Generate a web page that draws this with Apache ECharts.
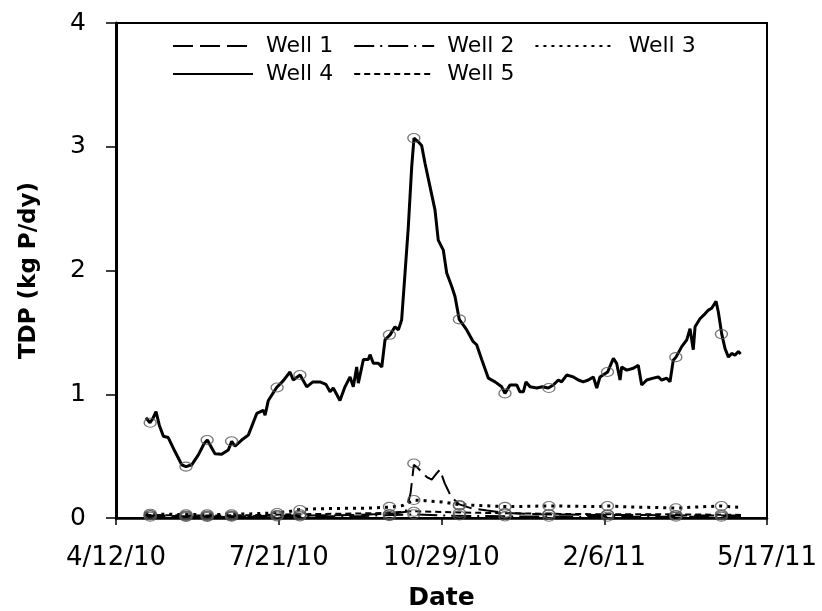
<!DOCTYPE html>
<html>
<head>
<meta charset="utf-8">
<script src="https://cdn.jsdelivr.net/npm/echarts@6/dist/echarts.min.js"></script>
<style>
html,body{margin:0;padding:0;background:#fff;}
#chart{width:822px;height:611px;}
</style>
</head>
<body>
<div id="chart"></div>
<script>
// x values are days after 4/12/10
const tickLabels = ['4/12/10', '7/21/10', '10/29/10', '2/6/11', '5/17/11'];
const legendRow1 = ['Well 1', 'Well 2', 'Well 3'];
const legendRow2 = ['Well 4', 'Well 5'];

const well4 = [[18.4,0.81],[20.9,0.77],[22.5,0.80],[24.6,0.86],[26.6,0.75],[29.1,0.66],[32.1,0.65],[36.3,0.535],[40.4,0.43],[43,0.415],[46.5,0.43],[50.6,0.51],[54.1,0.60],[56.1,0.63],[57.8,0.59],[60.8,0.52],[64.9,0.515],[69,0.55],[71.1,0.62],[73.1,0.58],[77.2,0.63],[81.3,0.67],[86.5,0.845],[90.5,0.87],[91.6,0.83],[93.6,0.95],[98.7,1.055],[102.8,1.11],[106.9,1.18],[108.9,1.115],[113.1,1.155],[117.2,1.06],[121,1.10],[125.3,1.10],[129,1.08],[131.5,1.02],[133.5,1.05],[137.6,0.95],[140.7,1.06],[143.8,1.14],[145.8,1.06],[147.9,1.22],[148.9,1.09],[152,1.28],[155,1.28],[156.1,1.32],[158.1,1.25],[161.2,1.25],[163.3,1.22],[165.3,1.44],[168.4,1.48],[171.4,1.545],[173.5,1.52],[175.5,1.60],[177.6,1.98],[179.6,2.35],[181.7,2.84],[183.1,3.07],[185.7,3.04],[187.8,3.01],[189.9,2.865],[192.9,2.68],[196,2.49],[198,2.245],[201.1,2.165],[203.2,1.98],[206.3,1.87],[208.3,1.79],[210.9,1.605],[215.5,1.52],[219.5,1.425],[221.6,1.40],[224.7,1.28],[228.8,1.13],[232.9,1.10],[237,1.06],[239,1.007],[242.1,1.075],[246.2,1.075],[248.2,1.02],[250.3,1.02],[251.9,1.10],[254.4,1.06],[258.5,1.05],[262,1.06],[265.6,1.05],[268.7,1.075],[271.8,1.115],[273.8,1.10],[276.9,1.155],[281,1.14],[284.1,1.115],[287.1,1.10],[290.2,1.115],[293.3,1.14],[295.4,1.05],[297.4,1.14],[302.1,1.18],[305.6,1.29],[307.6,1.25],[309.7,1.115],[310.7,1.22],[313.8,1.195],[317.9,1.21],[320.9,1.235],[323,1.075],[326.1,1.115],[330.1,1.13],[333.2,1.14],[335.3,1.115],[338.4,1.13],[340.4,1.10],[342.4,1.275],[344.1,1.30],[347.6,1.385],[350.7,1.44],[352.7,1.53],[354.7,1.36],[355.8,1.545],[358.8,1.61],[361.9,1.65],[364,1.68],[366,1.695],[368.7,1.75],[370.1,1.665],[372.2,1.486],[374.2,1.37],[376.3,1.30],[378.3,1.33],[380.3,1.315],[382.4,1.345],[383.8,1.325]];

const well1 = [[18,0.02],[40,0.015],[60,0.012],[80,0.015],[100,0.02],[120,0.02],[150,0.025],[170,0.035],[178,0.05],[181,0.2],[183,0.43],[185,0.41],[188,0.37],[191,0.33],[194,0.31],[197,0.36],[199,0.39],[202,0.28],[206,0.17],[211,0.11],[218,0.08],[228,0.06],[240,0.04],[260,0.03],[290,0.025],[320,0.025],[350,0.02],[384,0.02]];
const well2 = [[18,0.01],[60,0.008],[100,0.012],[150,0.015],[183,0.03],[200,0.02],[250,0.012],[300,0.01],[350,0.01],[384,0.01]];
const well3 = [[18,0.035],[30,0.03],[45,0.028],[60,0.028],[80,0.032],[95,0.04],[105,0.05],[113,0.068],[125,0.075],[140,0.078],[155,0.08],[168,0.088],[176,0.1],[183,0.145],[190,0.14],[200,0.13],[211,0.108],[225,0.1],[240,0.092],[255,0.095],[266,0.098],[280,0.095],[295,0.092],[302,0.097],[315,0.09],[330,0.085],[344,0.08],[358,0.09],[372,0.097],[384,0.085]];
const well5 = [[18,0.025],[50,0.02],[80,0.022],[110,0.03],[140,0.035],[165,0.04],[183,0.055],[195,0.05],[211,0.045],[230,0.04],[260,0.035],[300,0.03],[340,0.03],[384,0.025]];

// sampling days and measured values (open circles)
const sampleDays = [21, 43, 56, 71, 99, 113, 168, 183, 211, 239, 266, 302, 344, 372];
const well1Samples = [0.02,0.015,0.015,0.015,0.02,0.02,0.03,0.44,0.1,0.04,0.03,0.025,0.02,0.02];
const well2Samples = [0.01,0.008,0.008,0.01,0.012,0.012,0.015,0.03,0.02,0.012,0.01,0.01,0.01,0.01];
const well3Samples = [0.035,0.03,0.03,0.03,0.04,0.065,0.09,0.145,0.105,0.09,0.097,0.097,0.078,0.097];
const well4Samples = [0.77,0.415,0.63,0.62,1.055,1.155,1.48,3.07,1.605,1.007,1.05,1.18,1.30,1.486];
const well5Samples = [0.025,0.02,0.02,0.02,0.025,0.03,0.03,0.05,0.04,0.035,0.03,0.03,0.025,0.03];

const FONT = 'DejaVu Sans';

function lineSeries(name, data, type, width) {
  return {
    name: name, type: 'line', data: data, showSymbol: false, symbol: 'none',
    lineStyle: { color: '#000', width: width, type: type },
    itemStyle: { color: '#000' },
    animation: false, z: 3
  };
}
function sampleSeries(name, vals) {
  return {
    name: name, type: 'scatter',
    data: sampleDays.map((d, i) => [d, vals[i]]),
    symbol: 'circle', symbolSize: [12, 9],
    itemStyle: { color: 'rgba(0,0,0,0)', borderColor: '#555', borderWidth: 1.2 },
    animation: false, z: 4, silent: true
  };
}

const legendCommon = {
  left: 172, orient: 'horizontal', itemWidth: 80, itemHeight: 14, itemGap: 20, padding: 0,
  itemStyle: { opacity: 0 },
  textStyle: { fontFamily: FONT, fontSize: 22, color: '#000', padding: [0, 0, 0, 8] }
};

const chart = echarts.init(document.getElementById('chart'));
chart.setOption({
  backgroundColor: '#fff',
  animation: false,
  legend: [
    Object.assign({}, legendCommon, { top: 35, data: legendRow1 }),
    Object.assign({}, legendCommon, { top: 63, data: legendRow2 })
  ],
  grid: {
    left: 116, right: 55, top: 23, bottom: 93,
    show: true, borderColor: '#000', borderWidth: 2,
    containLabel: false, outerBoundsMode: 'none'
  },
  xAxis: {
    type: 'value', min: 0, max: 400, interval: 100,
    name: 'Date', nameLocation: 'middle', nameGap: 68,
    nameTextStyle: { fontFamily: FONT, fontSize: 25, fontWeight: 'bold', color: '#000' },
    axisLine: { onZero: false, lineStyle: { color: '#000', width: 2.5 } },
    axisTick: { show: true, inside: false, length: 7, lineStyle: { color: '#000', width: 1.5 } },
    axisLabel: {
      fontFamily: FONT, fontSize: 26, color: '#000', margin: 27,
      showMinLabel: true, showMaxLabel: true,
      formatter: v => tickLabels[Math.round(v / 100)]
    },
    splitLine: { show: false }
  },
  yAxis: {
    type: 'value', min: 0, max: 4, interval: 1,
    name: 'TDP (kg P/dy)', nameLocation: 'middle', nameGap: 75,
    nameTextStyle: { fontFamily: FONT, fontSize: 23, fontWeight: 'bold', color: '#000' },
    axisLine: { show: true, lineStyle: { color: '#000', width: 3 } },
    axisTick: { show: true, inside: false, length: 10, lineStyle: { color: '#000', width: 1.5 } },
    axisLabel: { fontFamily: FONT, fontSize: 25, color: '#000', margin: 30 },
    splitLine: { show: false }
  },
  series: [
    lineSeries('Well 1', well1, [20, 7], 2),
    lineSeries('Well 2', well2, [20, 6, 2, 6], 2),
    lineSeries('Well 3', well3, [3, 5], 3),
    lineSeries('Well 4', well4, 'solid', 3),
    lineSeries('Well 5', well5, [6, 4], 2),
    sampleSeries('s1', well1Samples),
    sampleSeries('s2', well2Samples),
    sampleSeries('s3', well3Samples),
    sampleSeries('s4', well4Samples),
    sampleSeries('s5', well5Samples)
  ]
});
</script>
</body>
</html>
